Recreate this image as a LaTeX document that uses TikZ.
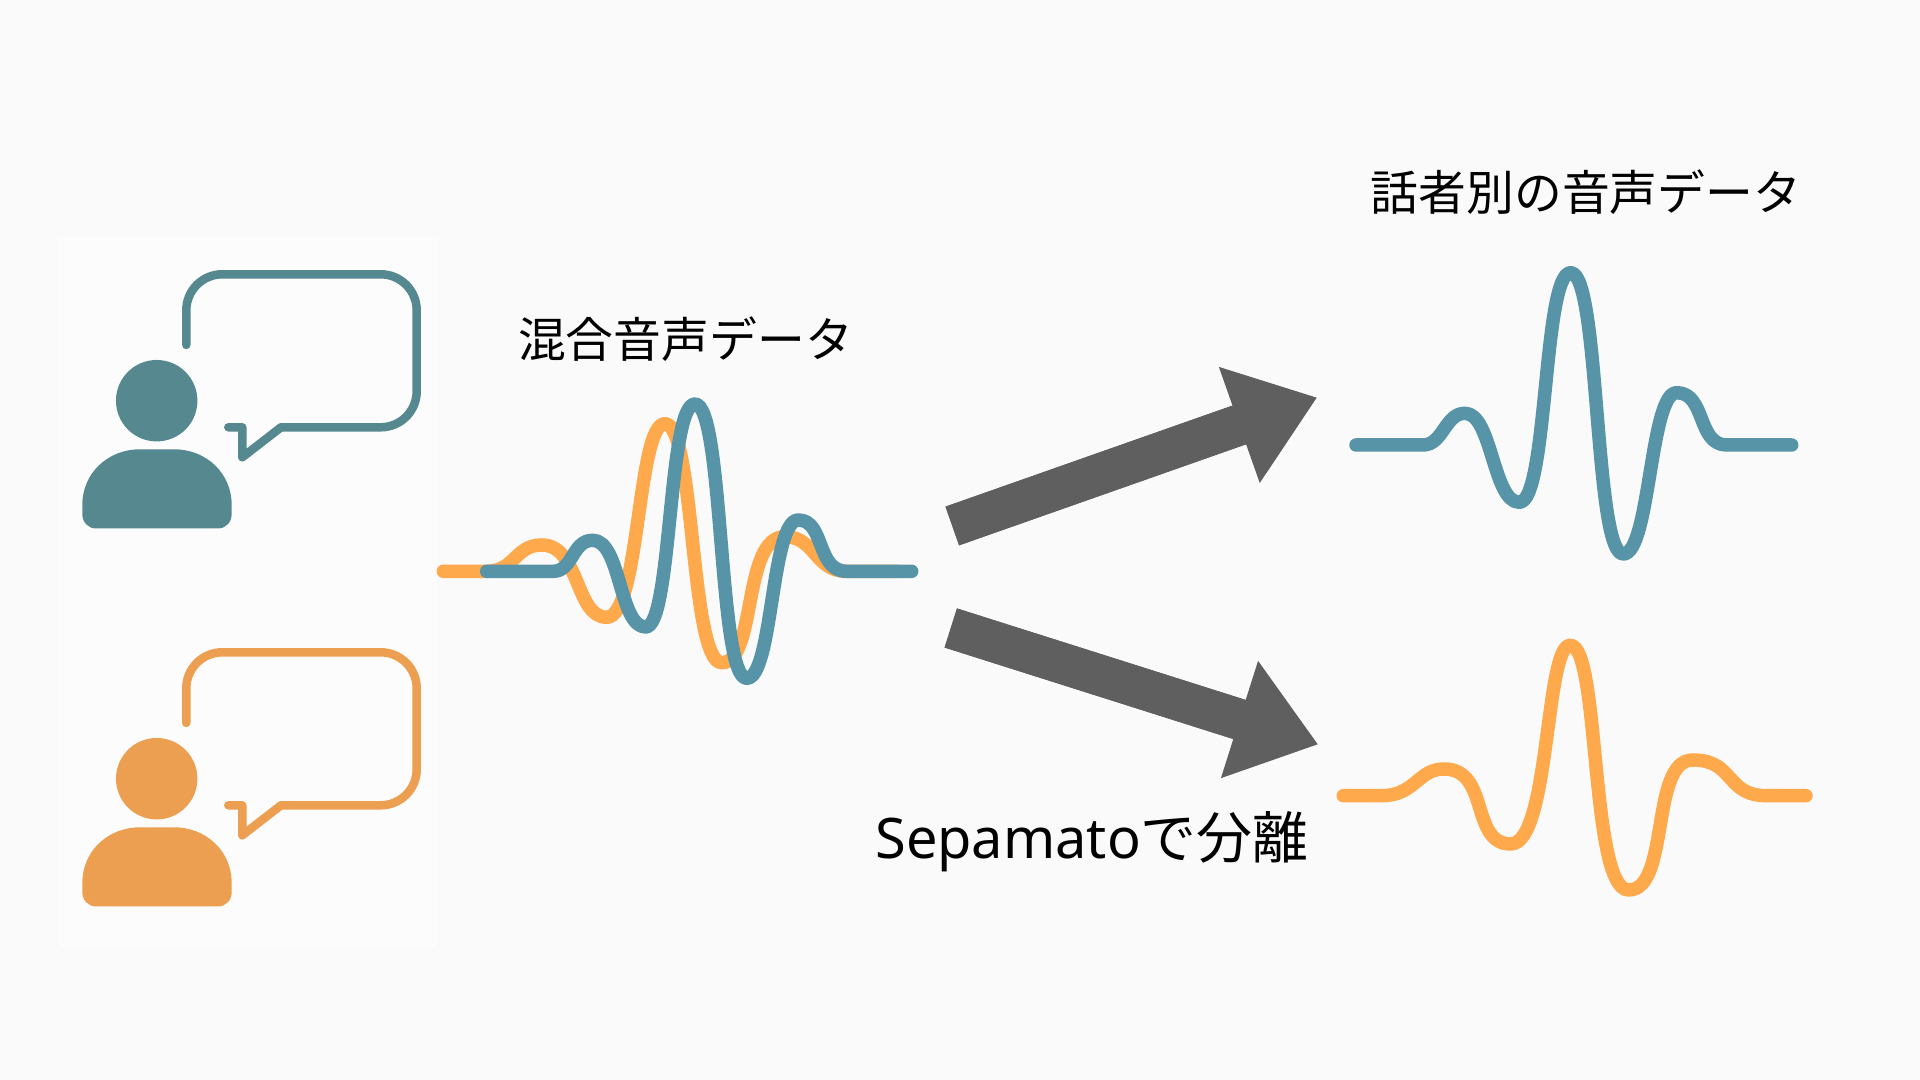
\documentclass[tikz,border=0pt]{standalone}
\usepackage{fontspec}
\setmainfont{Noto Sans}
\newfontfamily\cjk{Noto Sans CJK JP}
\usetikzlibrary{arrows.meta,calc}

\definecolor{pagebg}{HTML}{FAFAFA}
\definecolor{panelbg}{HTML}{FCFCFC}
\definecolor{iconteal}{HTML}{56888F}
\definecolor{iconorange}{HTML}{EC9F50}
\definecolor{waveblue}{HTML}{5794A8}
\definecolor{waveorange}{HTML}{FFA94D}
\definecolor{arrowgrey}{HTML}{5F5F5F}

\begin{document}
\begin{tikzpicture}[
        x=0.01cm,
        y=-0.01cm,
        wave/.style={
            line cap=round,
            line join=round,
            line width=0.135cm
        },
        outline/.style={
            line width=0.085cm,
            line cap=round,
            line join=round
        },
        bigshaft/.style={
            draw=arrowgrey,
            line width=0.41cm
        },
        bigarrow/.style={
            bigshaft,
            -{Triangle[length=0.82cm,width=1.23cm,line width=0pt]},
            fill=arrowgrey
        },
        title/.style={
            font=\cjk\fontsize{13.6pt}{16pt}\selectfont,
            inner sep=0pt
        },
        speaker/.pic={
            \fill[#1] (156.7,400.7) circle[radius=0.407cm];
            \fill[#1] (82.3,505) .. controls (82.3,473) and (108,449.3) .. (140,449.3) -- (174,449.3)
                .. controls (206,449.3) and (231.7,473) .. (231.7,505) -- (231.7,514)
                .. controls (231.7,522) and (226,528.5) .. (218,528.5) -- (96,528.5)
                .. controls (88,528.5) and (82.3,522) .. (82.3,514) -- cycle;
            \draw[#1,outline,rounded corners=0.36cm]
                (186.3,345) -- (186.3,274.3) -- (416.7,274.3) -- (416.7,427.3) -- (281,427.3);
            \draw[#1,outline] (281,427.3) -- (242.3,457.3) -- (242.3,427.3) -- (228.3,427.3);
        }
    ]

        \fill[pagebg] (0,0) rectangle (1920,1080);
        \fill[panelbg] (59,238) rectangle (437,948);

        \pic at (0,0) {speaker=iconteal};
        \pic at (0,378) {speaker=iconorange};

        % mixed signal
        \draw[wave,waveorange] (443.3,571.3) -- (486.7,571.3)
            .. controls (515,571.3) and (515,545) .. (541.7,545)
            .. controls (580,545) and (575,617.3) .. (606.7,617.3)
            .. controls (640,617.3) and (637,423.7) .. (665,423.7)
            .. controls (695,423.7) and (690,662.7) .. (721.7,662.7)
            .. controls (757,662.7) and (742,536.7) .. (785,536.7)
            .. controls (815,536.7) and (815,571.3) .. (846,571.3) -- (896.7,571.3);
        \draw[wave,waveblue] (486.7,571.3) -- (553.3,571.3)
            .. controls (573,571.3) and (572,540.3) .. (592.7,540.3)
            .. controls (621,540.3) and (619,627) .. (645.7,627)
            .. controls (672,627) and (668,404) .. (695,404)
            .. controls (724,404) and (718,678.3) .. (746.7,678.3)
            .. controls (773,678.3) and (771,520) .. (798.3,520)
            .. controls (825,520) and (816,571.3) .. (846.7,571.3) -- (911.7,571.3);

        % separated signals
        \draw[wave,waveblue] (1356,445) -- (1423,445)
            .. controls (1443,445) and (1445,413.3) .. (1465,413.3)
            .. controls (1492,413.3) and (1493,502.3) .. (1519.3,502.3)
            .. controls (1548,502.3) and (1543,272.7) .. (1570.7,272.7)
            .. controls (1600,272.7) and (1594,554) .. (1623.3,554)
            .. controls (1650,554) and (1650,392.7) .. (1676.7,392.7)
            .. controls (1706,392.7) and (1697,445) .. (1726.7,445) -- (1791.7,445);
        \draw[wave,waveorange] (1343.3,795.7) -- (1381.7,795.7)
            .. controls (1415,795.7) and (1418,769) .. (1444,769)
            .. controls (1490,769) and (1470,844) .. (1510.7,844)
            .. controls (1550,844) and (1545,645.3) .. (1570.3,645.3)
            .. controls (1600,645.3) and (1590,890) .. (1628.7,890)
            .. controls (1670,890) and (1650,760) .. (1692.7,760)
            .. controls (1735,760) and (1725,795.7) .. (1766.7,795.7) -- (1806,795.7);

        \coordinate (uptail) at (952.3,526);
        \coordinate (uptip) at (1316.7,397.7);
        \coordinate (downtail) at (950.8,628);
        \coordinate (downtip) at (1317.7,744.3);
        \draw[bigarrow] (uptail) -- (uptip);
        \draw[bigarrow] (downtail) -- (downtip);
        \draw[bigshaft] (uptail) -- ($(uptail)!0.85!(uptip)$);
        \draw[bigshaft] (downtail) -- ($(downtail)!0.85!(downtip)$);

        \node[title] (mixlabel) at (685.5,339) {混合音声データ};
        \node[title] (splitlabel) at (1586,192) {話者別の音声データ};
        \node[font=\fontsize{15.9pt}{19pt}\selectfont,inner sep=0pt] (toollabel) at (1092,842) {Sepamato{\cjk で分離}};

    \end{tikzpicture}
\end{document}
